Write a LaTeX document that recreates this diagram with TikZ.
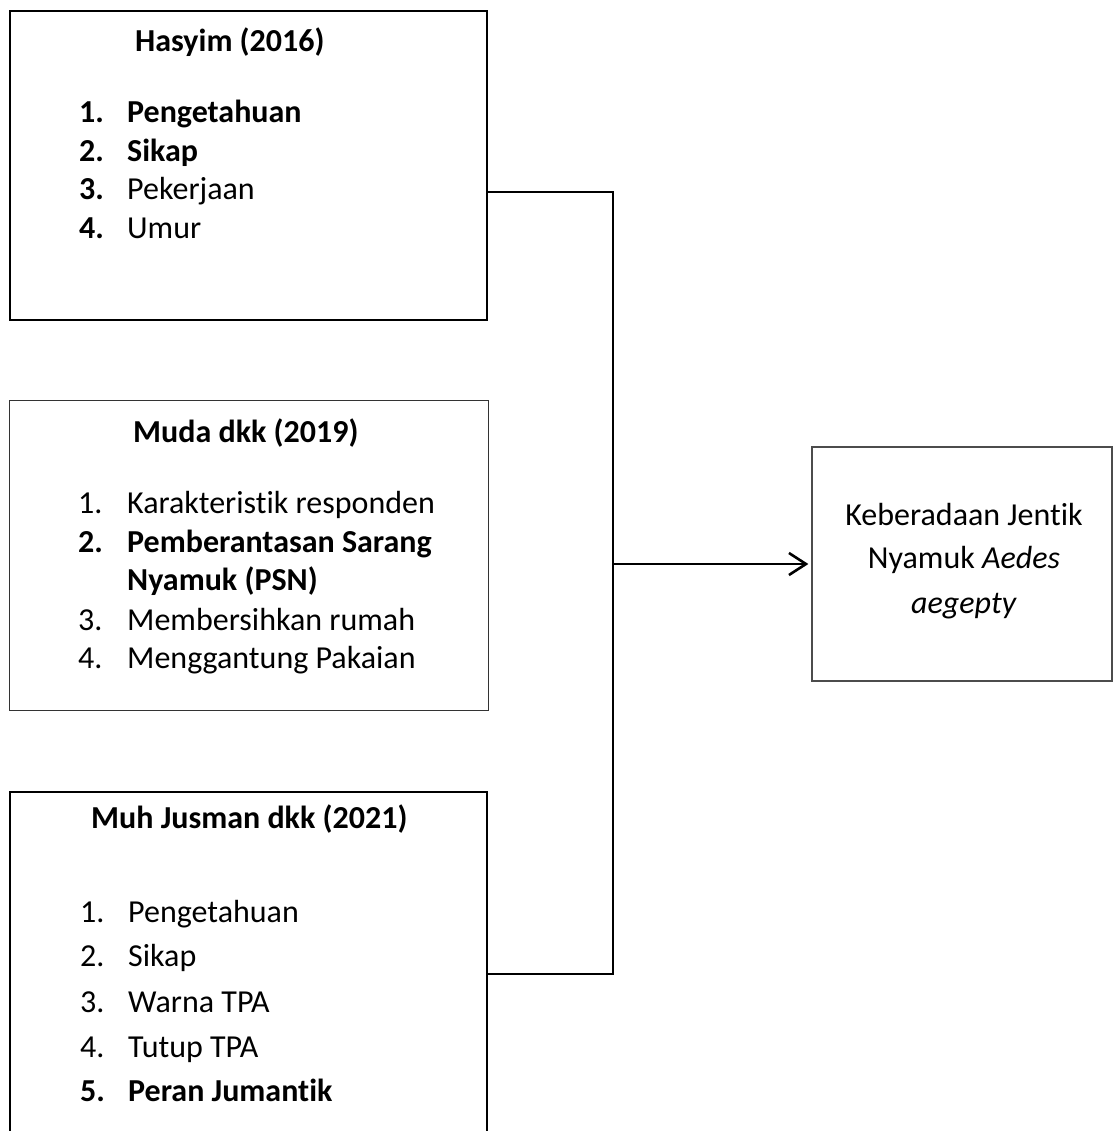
\documentclass[tikz,border=0pt]{standalone}
\usepackage{fontspec}
\setmainfont{Carlito}[Ligatures={NoCommon,NoRequired,NoContextual}]
\usetikzlibrary{arrows.meta}
\begin{document}
\begin{tikzpicture}[x=1pt,y=-1pt,
  thickbox/.style={draw=black,line width=2.6pt,inner sep=0pt},
  thinbox/.style={draw=black!80,line width=1.3pt,inner sep=0pt},
  conn/.style={draw=black,line width=2.6pt},
  txt/.style={anchor=base west,inner sep=0pt,font=\fontsize{32}{39}\selectfont},
  ctxt/.style={anchor=base,inner sep=0pt,font=\fontsize{32}{39}\selectfont}]
\useasboundingbox (0,0) rectangle (1113,1131);
% boxes
\node[thickbox,minimum width=477pt,minimum height=309pt] (b1) at (248.5,165.5) {};
\node[thinbox,minimum width=479pt,minimum height=310pt] (b2) at (249,555.5) {};
\node[thickbox,minimum width=477pt,minimum height=380pt] (b3) at (248.5,982) {};
\node[thinbox,draw=black!70,minimum width=300pt,minimum height=234pt] (out) at (962,564) {};
% box 1
\node[txt] (t1) at (135,52) {\bfseries Hasyim (2016)};
\node[txt] (n11) at (79,123) {\bfseries 1.};
\node[txt] (i11) at (127,123) {\bfseries Pengetahuan};
\node[txt] (n12) at (79,162) {\bfseries 2.};
\node[txt] (i12) at (127,162) {\bfseries Sikap};
\node[txt] (n13) at (79,200) {\bfseries 3.};
\node[txt] (i13) at (127,200) {Pekerjaan};
\node[txt] (n14) at (79,239) {\bfseries 4.};
\node[txt] (i14) at (127,239) {Umur};
% box 2
\node[txt] (t2) at (133,442) {\bfseries Muda dkk (2019)};
\node[txt] (n21) at (78,513) {1.};
\node[txt] (i21) at (127,513) {Karakteristik responden};
\node[txt] (n22) at (78,552) {\bfseries 2.};
\node[txt] (i22) at (127,552) {\bfseries Pemberantasan Sarang};
\node[txt] (i22b) at (127,590) {\bfseries Nyamuk (PSN)};
\node[txt] (n23) at (78,630) {3.};
\node[txt] (i23) at (127,630) {Membersihkan rumah};
\node[txt] (n24) at (78,668) {4.};
\node[txt] (i24) at (127,668) {Menggantung Pakaian};
% box 3
\node[txt] (t3) at (91,828) {\bfseries Muh Jusman dkk (2021)};
\node[txt] (n31) at (80,922) {1.};
\node[txt] (i31) at (128,922) {Pengetahuan};
\node[txt] (n32) at (80,966) {2.};
\node[txt] (i32) at (128,966) {Sikap};
\node[txt] (n33) at (80,1012) {3.};
\node[txt] (i33) at (128,1012) {Warna TPA};
\node[txt] (n34) at (80,1057) {4.};
\node[txt] (i34) at (128,1057) {Tutup TPA};
\node[txt] (n35) at (80,1101) {\bfseries 5.};
\node[txt] (i35) at (128,1101) {\bfseries Peran Jumantik};
% output box
\node[ctxt] (o1) at (964,525) {Keberadaan Jentik};
\node[ctxt] (o2) at (964,568) {Nyamuk \textit{Aedes}};
\node[ctxt] (o3) at (964,613) {\textit{aegepty}};
% connectors
\coordinate (j1) at (613,192);
\coordinate (j2) at (613,564);
\coordinate (j3) at (613,974);
\draw[conn,line join=miter] (b1.east |- j1) -- (j1) -- (j3) -- (b3.east |- j3);
\draw[conn,-{Straight Barb[length=17pt,width=22pt,line width=2.6pt]},shorten >=3pt] (j2) -- (out.west);
\end{tikzpicture}
\end{document}
